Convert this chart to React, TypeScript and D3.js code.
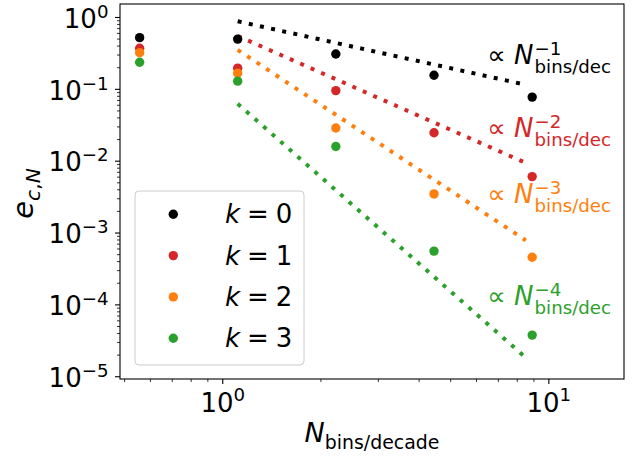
import React, { useEffect, useRef } from 'react';
import * as d3 from 'd3';

const W = 635;
const H = 456;

// Data
const nBins = [0.556, 1.111, 2.222, 4.444, 8.889];
const errK0 = [0.524, 0.5, 0.31, 0.157, 0.078];
const errK1 = [0.373, 0.197, 0.096, 0.0249, 0.0061];
const errK2 = [0.324, 0.168, 0.029, 0.0035, 0.00046];
const errK3 = [0.238, 0.13, 0.016, 0.00056, 0.000038];
const kValues = ['0', '1', '2', '3'];
const colors = ['#000000', '#d62728', '#ff7f0e', '#2ca02c'];

// Power-law guide lines (start / end values)
const refX = [1.111, 8.5];
const refStart = [0.885, 0.553, 0.354, 0.063];
const refEnd = [0.1157, 0.00945, 0.00079, 0.0000184];
const refPowers = ['\u22121', '\u22122', '\u22123', '\u22124'];
const refLabelBaselines = [64, 137, 203, 305];

const yTickExps = [0, -1, -2, -3, -4, -5];
const xTickExps = [0, 1];

const series = [errK0, errK1, errK2, errK3];

const FONT = 'DejaVu Sans, Liberation Sans, sans-serif';
const FS = 26;
const FSS = 18.2;

export default function App() {
  const ref = useRef<SVGSVGElement | null>(null);

  useEffect(() => {
    const svg = d3.select(ref.current);
    svg.selectAll('*').remove();

    const left = 120, right = 624, top = 4, bottom = 379;
    const x = d3.scaleLog().domain([0.484, 17.0]).range([left, right]);
    const y = d3.scaleLog().domain([9.3e-6, 1.54]).range([bottom, top]);

    svg.append('rect').attr('x', 0).attr('y', 0).attr('width', W).attr('height', H).attr('fill', '#fff');

    const clip = svg.append('defs').append('clipPath').attr('id', 'plotclip');
    clip.append('rect').attr('x', left).attr('y', top).attr('width', right - left).attr('height', bottom - top);

    const plot = svg.append('g').attr('clip-path', 'url(#plotclip)');

    // guide lines
    const line = d3.line<[number, number]>().x(d => x(d[0])).y(d => y(d[1]));
    refStart.forEach((s, i) => {
      const pts: [number, number][] = [[refX[0], s], [refX[1], refEnd[i]]];
      plot.append('path')
        .attr('d', line(pts) as string)
        .attr('fill', 'none')
        .attr('stroke', colors[i])
        .attr('stroke-width', 4.0)
        .attr('stroke-dasharray', '4 7.4');
    });

    // points
    series.forEach((vals, i) => {
      plot.selectAll(null)
        .data(vals)
        .enter()
        .append('circle')
        .attr('cx', (_d, j) => x(nBins[j]))
        .attr('cy', d => y(d))
        .attr('r', 4.7)
        .attr('fill', colors[i]);
    });

    // y ticks
    const yAxis = svg.append('g');
    const yDom = y.domain();
    for (let e = -6; e <= 1; e++) {
      for (let m = 1; m <= 9; m++) {
        const v = m * Math.pow(10, e);
        if (v < yDom[0] || v > yDom[1]) continue;
        const major = m === 1;
        yAxis.append('line')
          .attr('x1', left - (major ? 5 : 3)).attr('x2', left)
          .attr('y1', y(v)).attr('y2', y(v))
          .attr('stroke', '#000').attr('stroke-width', major ? 1.1 : 0.8);
      }
    }
    yTickExps.forEach(e => {
      const t = yAxis.append('text')
        .attr('x', 108.5).attr('y', y(Math.pow(10, e)) + 10.3)
        .attr('text-anchor', 'end')
        .attr('font-family', FONT).attr('font-size', FS).attr('fill', '#000');
      t.append('tspan').text('10');
      t.append('tspan').attr('font-size', FSS).attr('dy', -10).text(e < 0 ? '\u2212' + Math.abs(e) : String(e));
    });

    // x ticks
    const xAxis = svg.append('g');
    const xDom = x.domain();
    for (let e = -1; e <= 1; e++) {
      for (let m = 1; m <= 9; m++) {
        const v = m * Math.pow(10, e);
        if (v < xDom[0] || v > xDom[1]) continue;
        const major = m === 1;
        xAxis.append('line')
          .attr('x1', x(v)).attr('x2', x(v))
          .attr('y1', bottom).attr('y2', bottom + (major ? 5 : 3))
          .attr('stroke', '#000').attr('stroke-width', major ? 1.1 : 0.8);
      }
    }
    xTickExps.forEach(e => {
      const t = xAxis.append('text')
        .attr('x', x(Math.pow(10, e))).attr('y', 411.5)
        .attr('text-anchor', 'middle')
        .attr('font-family', FONT).attr('font-size', FS).attr('fill', '#000');
      t.append('tspan').text('10');
      t.append('tspan').attr('font-size', FSS).attr('dy', -11).text(String(e));
    });

    // spines
    svg.append('rect')
      .attr('x', left).attr('y', top).attr('width', right - left).attr('height', bottom - top)
      .attr('fill', 'none').attr('stroke', '#000').attr('stroke-width', 1.1);

    // x label
    const xl = svg.append('text')
      .attr('x', (left + right) / 2).attr('y', 442)
      .attr('text-anchor', 'middle')
      .attr('font-family', FONT).attr('font-size', 27).attr('fill', '#000');
    xl.append('tspan').attr('font-style', 'italic').text('N');
    xl.append('tspan').attr('font-size', 18.9).attr('dy', 6.5).text('bins/decade');

    // y label
    const yl = svg.append('text')
      .attr('transform', `translate(33,${(top + bottom) / 2 + 2}) rotate(-90)`)
      .attr('text-anchor', 'middle')
      .attr('font-family', FONT).attr('font-size', 29).attr('fill', '#000');
    yl.append('tspan').attr('font-style', 'italic').text('e');
    yl.append('tspan').attr('font-size', 20.3).attr('dy', 6.5).attr('font-style', 'italic').text('c');
    yl.append('tspan').attr('font-size', 20.3).text(',');
    yl.append('tspan').attr('font-size', 20.3).attr('font-style', 'italic').text('N');

    // guide-line annotations
    const xEnd = 611;
    refPowers.forEach((p, i) => {
      const base = refLabelBaselines[i];
      const g = svg.append('g').attr('fill', colors[i]).attr('font-family', FONT);
      const sub = g.append('text')
        .attr('x', xEnd).attr('y', base + 9)
        .attr('text-anchor', 'end').attr('font-size', FSS)
        .text('bins/dec');
      const wSub = (sub.node() as SVGTextElement).getComputedTextLength();
      g.append('text')
        .attr('x', xEnd - wSub).attr('y', base - 9)
        .attr('text-anchor', 'start').attr('font-size', FSS)
        .text(p);
      const main = g.append('text')
        .attr('x', xEnd - wSub - 1).attr('y', base)
        .attr('text-anchor', 'end').attr('font-size', FS);
      main.append('tspan').text('\u221d ');
      main.append('tspan').attr('font-style', 'italic').text('N');
    });

    // legend
    const lg = svg.append('g');
    lg.append('rect')
      .attr('x', 135).attr('y', 191).attr('width', 169).attr('height', 174)
      .attr('rx', 4).attr('ry', 4)
      .attr('fill', '#fff').attr('fill-opacity', 0.8)
      .attr('stroke', '#cccccc').attr('stroke-width', 1);
    kValues.forEach((k, i) => {
      const cy = 214.3 + i * 41.3;
      lg.append('circle').attr('cx', 173.3).attr('cy', cy).attr('r', 4.7).attr('fill', colors[i]);
      const t = lg.append('text')
        .attr('x', 225).attr('y', cy + 9)
        .attr('font-family', FONT).attr('font-size', FS).attr('fill', '#000');
      t.append('tspan').attr('font-style', 'italic').text('k');
      t.append('tspan').attr('dx', 7).text('=');
      t.append('tspan').attr('dx', 7).text(k);
    });
  }, []);

  return (
    <svg
      ref={ref}
      width={W}
      height={H}
      style={{ position: 'absolute', left: 0, top: 0, display: 'block' }}
    />
  );
}
